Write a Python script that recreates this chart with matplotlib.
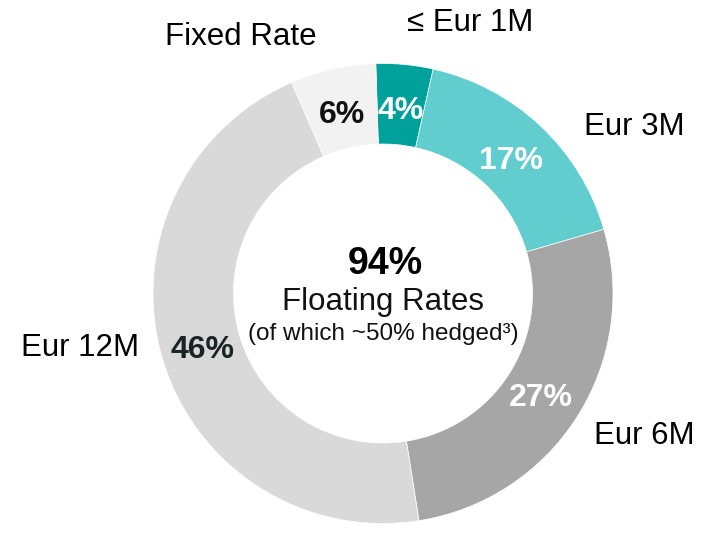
import matplotlib.pyplot as plt

plt.rcParams['font.family'] = ['Liberation Sans', 'DejaVu Sans']

# data, clockwise from the top
buckets = ["≤ Eur 1M", "Eur 3M", "Eur 6M", "Eur 12M", "Fixed Rate"]
shares = [4, 17, 27, 46, 6]
colors = ["#00A19A", "#62CDCF", "#A6A6A6", "#D9D9D9", "#F2F2F2"]
pct_colors = ["white", "white", "white", "#1A2424", "#111111"]

floating_share = 94
center_title = "Floating Rates"
center_note = "(of which ~50% hedged³)"

fig = plt.figure(figsize=(7.05, 5.33), dpi=100)
ax = fig.add_axes([0, 0, 1, 1])

wedges, texts, autotexts = ax.pie(
    shares,
    colors=colors,
    startangle=91.8,
    counterclock=False,
    radius=1.0,
    wedgeprops=dict(width=0.35, edgecolor="white", linewidth=0.5),
    autopct=lambda p: f"{round(p):.0f}%",
    pctdistance=0.815,
)
for t, c in zip(autotexts, pct_colors):
    t.set_color(c)
    t.set_fontsize(23)
    t.set_fontweight("bold")
    # va=center sits a bit high, nudge down
    x, y = t.get_position()
    t.set_position((x, y - 0.018))

# outer labels placed by hand like the original slide
label_pos = {
    "≤ Eur 1M": (0.378, 1.176),
    "Eur 3M": (1.091, 0.724),
    "Eur 6M": (1.135, -0.620),
    "Eur 12M": (-1.317, -0.237),
    "Fixed Rate": (-0.617, 1.115),
}
for name in buckets:
    x, y = label_pos[name]
    ax.text(x, y, name, ha="center", va="center", fontsize=22.5, color="black")

ax.text(0.01, 0.127, f"{floating_share}%", ha="center", va="center",
        fontsize=27, fontweight="bold", color="black")
ax.text(0.0, -0.037, center_title, ha="center", va="center", fontsize=22.5, color="#111111")
ax.text(0.0, -0.176, center_note, ha="center", va="center", fontsize=17.5, color="#111111")

ax.set_xlim(-383 / 230, (705 - 383) / 230)
ax.set_ylim((293.5 - 533) / 230, 293.5 / 230)
ax.axis("off")

fig.savefig("out.png", dpi=100)
